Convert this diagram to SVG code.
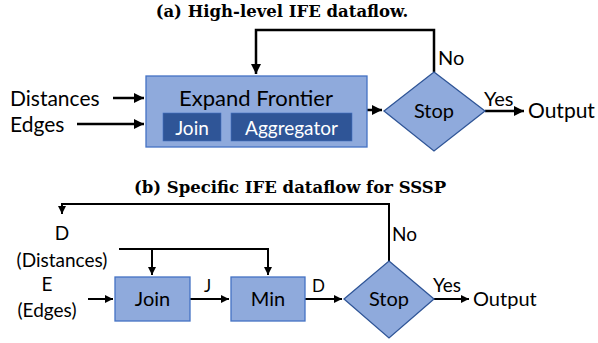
<svg xmlns="http://www.w3.org/2000/svg" width="598" height="343" viewBox="0 0 598 343">
<defs>
<marker id="ah" viewBox="0 0 10 10" refX="10" refY="5" markerWidth="4" markerHeight="4" orient="auto" markerUnits="strokeWidth"><path d="M0,0 L10,5 L0,10 z" fill="#000"/></marker>
<style>
.t{font-family:Lato,"Open Sans","Liberation Sans",sans-serif;fill:#000}
.ti{font-family:"DejaVu Serif","Liberation Serif",serif;font-weight:bold;font-size:16.5px;fill:#000}
.box{fill:#8FAADC;stroke:#4472C4;stroke-width:1.3}
.dia{fill:#8FAADC;stroke:#2F5597;stroke-width:1.3}
.inner{fill:#2F5597;stroke:#4472C4;stroke-width:0.6}
.w{font-family:Lato,"Open Sans","Liberation Sans",sans-serif;fill:#fff}
.ln{fill:none;stroke:#000;stroke-width:2.5}
.lnb{fill:none;stroke:#000;stroke-width:2}
</style>
</defs>
<text class="ti" x="282" y="17" text-anchor="middle">(a) High-level IFE dataflow.</text>
<text class="ti" x="290" y="193" text-anchor="middle">(b) Specific IFE dataflow for SSSP</text>

<g id="connectors">
<path class="ln" d="M434,72 V30 H256 V74" marker-end="url(#ah)"/>
<path class="ln" d="M113,98 H144" marker-end="url(#ah)"/>
<path class="ln" d="M77,124 H144" marker-end="url(#ah)"/>
<path class="ln" d="M367,110 H382" marker-end="url(#ah)"/>
<path class="ln" d="M485,111 H524" marker-end="url(#ah)"/>
<path class="lnb" d="M389,261 V204 H62 V214" marker-end="url(#ah)"/>
<path class="lnb" d="M119,249 H268 V275" marker-end="url(#ah)"/>
<path class="lnb" d="M152,249 V275" marker-end="url(#ah)"/>
<path class="lnb" d="M88,299 H113" marker-end="url(#ah)"/>
<path class="lnb" d="M190,299 H229" marker-end="url(#ah)"/>
<path class="lnb" d="M305,299 H342" marker-end="url(#ah)"/>
<path class="lnb" d="M434,299 H469" marker-end="url(#ah)"/>
</g>

<g id="labels-a">
<text class="t" x="10" y="106" font-size="21">Distances</text>
<text class="t" x="10" y="132" font-size="21">Edges</text>
<text class="t" x="438" y="65" font-size="20">No</text>
<text class="t" x="484" y="106" font-size="20">Yes</text>
<text class="t" x="528" y="118" font-size="21">Output</text>
</g>

<g id="expand">
<rect class="box" x="146" y="76" width="221" height="71"/>
<text class="t" x="256" y="106" font-size="22" text-anchor="middle">Expand Frontier</text>
</g>
<g id="join-a">
<rect class="inner" x="163" y="113" width="58" height="28"/>
<text class="w" x="192" y="135" font-size="19" text-anchor="middle">Join</text>
</g>
<g id="aggregator">
<rect class="inner" x="231" y="113" width="121" height="28"/>
<text class="w" x="291.500" y="135" font-size="19" text-anchor="middle">Aggregator</text>
</g>
<g id="stop-a">
<polygon class="dia" points="434,72 485,111 434,151 384,111"/>
<text class="t" x="434" y="118" font-size="20" text-anchor="middle">Stop</text>
</g>

<g id="labels-b">
<text class="t" x="62" y="240" font-size="19" text-anchor="middle">D</text>
<text class="t" x="62" y="267" font-size="19" text-anchor="middle">(Distances)</text>
<text class="t" x="47" y="291" font-size="19" text-anchor="middle">E</text>
<text class="t" x="47" y="317" font-size="19" text-anchor="middle">(Edges)</text>
<text class="t" x="204" y="292" font-size="17">J</text>
<text class="t" x="312" y="292" font-size="17">D</text>
<text class="t" x="392" y="241" font-size="19">No</text>
<text class="t" x="433" y="292" font-size="19">Yes</text>
<text class="t" x="473" y="306" font-size="20">Output</text>
</g>

<g id="join-b">
<rect class="box" x="115" y="277" width="75" height="44"/>
<text class="t" x="152.500" y="306" font-size="20" text-anchor="middle">Join</text>
</g>
<g id="min">
<rect class="box" x="231" y="277" width="74" height="44"/>
<text class="t" x="268" y="306" font-size="20" text-anchor="middle">Min</text>
</g>
<g id="stop-b">
<polygon class="dia" points="389,261 434,299 389,338 344,299"/>
<text class="t" x="389" y="306" font-size="20" text-anchor="middle">Stop</text>
</g>
</svg>
